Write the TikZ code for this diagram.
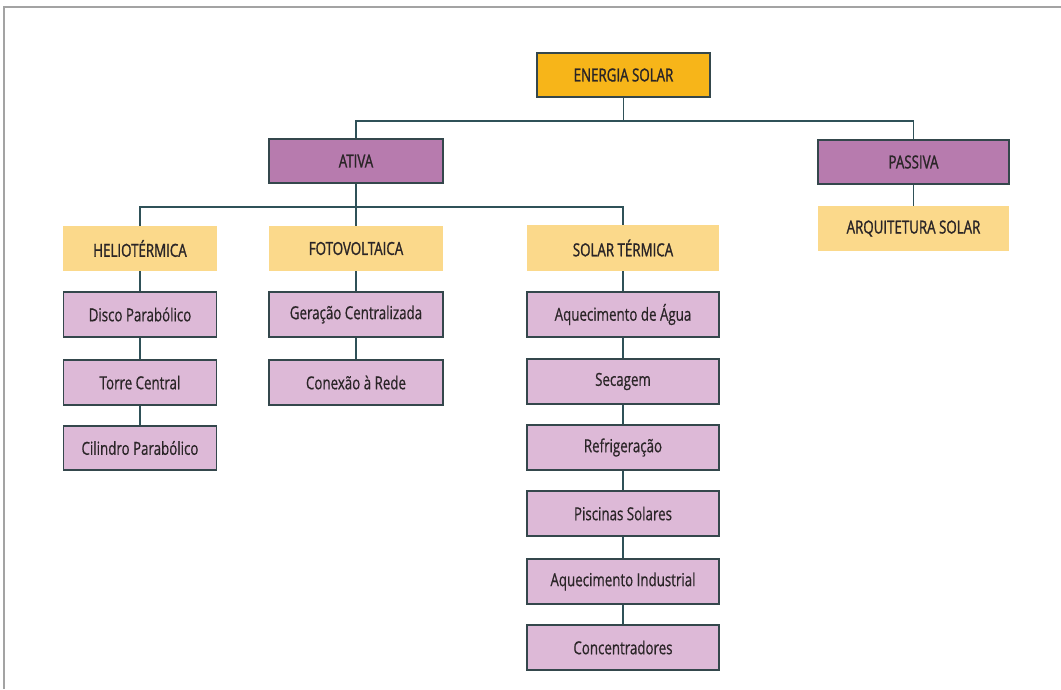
\documentclass[tikz,border=0pt]{standalone}
\usepackage{fontspec}
\setmainfont[FakeStretch=0.74,FakeBold=0.6]{Open Sans}
\newfontfamily\capsfont[FakeStretch=0.74,FakeBold=1.3]{Open Sans}
\definecolor{frame}{HTML}{A3A3A3}
\definecolor{orangeA}{HTML}{F7B519}
\definecolor{purpleA}{HTML}{B77BAE}
\definecolor{orangeB}{HTML}{FBD98B}
\definecolor{purpleB}{HTML}{DDB9D7}
\definecolor{edge}{HTML}{34474C}
\definecolor{linec}{HTML}{2F5158}
\definecolor{txt}{HTML}{2A2527}
\tikzset{
  base/.style={rectangle, inner sep=0pt, font=\fontsize{18}{20}\selectfont, text=txt},
  capbase/.style={base, font=\capsfont\fontsize{18}{20}\selectfont},
  toplvl/.style={capbase, fill=orangeA, draw=edge, line width=1.2pt},
  branch/.style={capbase, fill=purpleA, draw=edge, line width=1.2pt},
  cat/.style={capbase, fill=orangeB},
  leaf/.style={base, fill=purpleB, draw=edge, line width=1.2pt},
  conn/.style={draw=linec, line width=1.2pt}
}
\begin{document}
\begin{tikzpicture}[x=1pt,y=-1pt]
\useasboundingbox (0,0) rectangle (1061,689);
\draw[frame, line width=2pt] (4,689) -- (4,7) -- (1062,7);

\node[toplvl, minimum width=173pt, minimum height=44pt] (energia) at (623.5,75) {ENERGIA SOLAR};
\node[branch, minimum width=174pt, minimum height=44pt] (ativa) at (356,161) {ATIVA};
\node[branch, minimum width=191pt, minimum height=44pt] (passiva) at (913.5,162) {PASSIVA};

\node[cat, minimum width=154pt, minimum height=45pt] (helio) at (140,248.5) {HELIOTÉRMICA};
\node[cat, minimum width=174pt, minimum height=45pt] (foto) at (356,248.5) {FOTOVOLTAICA};
\node[cat, minimum width=192pt, minimum height=46pt] (solart) at (623,248) {SOLAR TÉRMICA};
\node[cat, minimum width=191pt, minimum height=45pt] (arq) at (913.5,228.5) {ARQUITETURA SOLAR};

\node[leaf, minimum width=153pt, minimum height=45pt] (disco) at (140,314.5) {Disco Parabólico};
\node[leaf, minimum width=153pt, minimum height=45pt] (torre) at (140,382.5) {Torre Central};
\node[leaf, minimum width=153pt, minimum height=44pt] (cilindro) at (140,448) {Cilindro Parabólico};

\node[leaf, minimum width=174pt, minimum height=45pt] (geracao) at (356,314.5) {Geração Centralizada};
\node[leaf, minimum width=174pt, minimum height=45pt] (conexao) at (356,382.5) {Conexão à Rede};

\node[leaf, minimum width=192pt, minimum height=45pt] (aquec) at (623,314.5) {Aquecimento de Água};
\node[leaf, minimum width=192pt, minimum height=45pt] (secagem) at (623,381.5) {Secagem};
\node[leaf, minimum width=192pt, minimum height=45pt] (refrig) at (623,447.5) {Refrigeração};
\node[leaf, minimum width=192pt, minimum height=45pt] (piscinas) at (623,513.5) {Piscinas Solares};
\node[leaf, minimum width=192pt, minimum height=45pt] (aquecind) at (623,581.5) {Aquecimento Industrial};
\node[leaf, minimum width=192pt, minimum height=45pt] (concentr) at (623,647.5) {Concentradores};

\coordinate (bus1) at (0,121);
\coordinate (bus2) at (0,207);

\draw[conn] (energia.south) -- (energia.south |- bus1) -| (ativa.north);
\draw[conn] (energia.south |- bus1) -| (passiva.north);
\draw[conn] (ativa.south) -- (foto.north);
\draw[conn] (ativa.south |- bus2) -| (helio.north);
\draw[conn] (ativa.south |- bus2) -| (solart.north);
\draw[conn] (passiva.south) -- (arq.north);

\draw[conn] (helio.south) -- (disco.north);
\draw[conn] (disco.south) -- (torre.north);
\draw[conn] (torre.south) -- (cilindro.north);

\draw[conn] (foto.south) -- (geracao.north);
\draw[conn] (geracao.south) -- (conexao.north);

\draw[conn] (solart.south) -- (aquec.north);
\draw[conn] (aquec.south) -- (secagem.north);
\draw[conn] (secagem.south) -- (refrig.north);
\draw[conn] (refrig.south) -- (piscinas.north);
\draw[conn] (piscinas.south) -- (aquecind.north);
\draw[conn] (aquecind.south) -- (concentr.north);
\end{tikzpicture}
\end{document}
